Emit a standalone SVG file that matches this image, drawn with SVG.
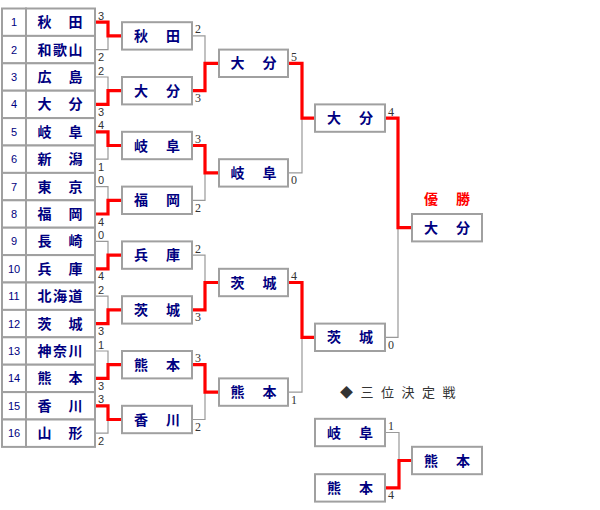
<svg xmlns="http://www.w3.org/2000/svg" width="600" height="510" viewBox="0 0 600 510">
<style>
.cell{fill:#fff;stroke:#a0a0a0;stroke-width:2}
.box{fill:#fff;stroke:#a0a0a0;stroke-width:2}
.num{font-family:"Liberation Sans",Arial,sans-serif;font-size:11px;fill:#000080;text-anchor:middle}
.tn{font-family:"Noto Sans CJK JP",sans-serif;font-size:14px;font-weight:bold;fill:#000080;text-anchor:middle;letter-spacing:1.5px}
.bn{font-family:"Noto Sans CJK JP",sans-serif;font-size:14px;font-weight:bold;fill:#000080;text-anchor:middle;letter-spacing:2px}
.sc{font-family:"Liberation Sans",Arial,sans-serif;font-size:11px;fill:#333}
.scs{font-family:"Liberation Serif","Times New Roman",serif;font-size:12px;fill:#333}
.g{fill:none;stroke:#999;stroke-width:1.2}
.r{fill:none;stroke:#f00;stroke-width:3.2}
.win{font-family:"Noto Sans CJK JP",sans-serif;font-size:14px;font-weight:bold;fill:#f00;text-anchor:middle;letter-spacing:2px}
.third{font-family:"Noto Sans CJK JP",sans-serif;font-size:13px;fill:#333;letter-spacing:7.5px}
</style>

<g id="connectors">
  <!-- Round 1 grey brackets -->
  <path class="g" d="M95 22.2H108V49.6H95M108 35.9H122"/>
  <path class="g" d="M95 77H108V104.4H95M108 90.7H122"/>
  <path class="g" d="M95 131.8H108V159.2H95M108 145.5H122"/>
  <path class="g" d="M95 186.6H108V214H95M108 200.3H122"/>
  <path class="g" d="M95 241.4H108V268.8H95M108 255.1H122"/>
  <path class="g" d="M95 296.2H108V323.6H95M108 309.9H122"/>
  <path class="g" d="M95 351H108V378.4H95M108 364.7H122"/>
  <path class="g" d="M95 405.8H108V433.2H95M108 419.5H122"/>
  <!-- Round 2 grey brackets -->
  <path class="g" d="M192 35.9H205V90.7H192M205 63.3H219"/>
  <path class="g" d="M192 145.5H205V200.3H192M205 172.9H219"/>
  <path class="g" d="M192 255.1H205V309.9H192M205 282.5H219"/>
  <path class="g" d="M192 364.7H205V419.5H192M205 392.1H219"/>
  <!-- Round 3 grey brackets -->
  <path class="g" d="M288 63.3H302V172.9H288M302 118.1H315"/>
  <path class="g" d="M288 282.5H302V392.1H288M302 337.3H315"/>
  <!-- Final grey bracket -->
  <path class="g" d="M385 118.1H398V337.3H385M398 227.7H412"/>
  <!-- Third place grey bracket -->
  <path class="g" d="M385 432.5H399V487.9H385M399 460.5H412"/>

  <!-- Winner paths (red) -->
  <path class="r" d="M95 22.2H108V35.9H122"/>
  <path class="r" d="M95 104.4H108V90.7H122"/>
  <path class="r" d="M95 131.8H108V145.5H122"/>
  <path class="r" d="M95 214H108V200.3H122"/>
  <path class="r" d="M95 268.8H108V255.1H122"/>
  <path class="r" d="M95 323.6H108V309.9H122"/>
  <path class="r" d="M95 378.4H108V364.7H122"/>
  <path class="r" d="M95 405.8H108V419.5H122"/>
  <path class="r" d="M192 90.7H205V63.3H219"/>
  <path class="r" d="M192 145.5H205V172.9H219"/>
  <path class="r" d="M192 309.9H205V282.5H219"/>
  <path class="r" d="M192 364.7H205V392.1H219"/>
  <path class="r" d="M288 63.3H302V118.1H315"/>
  <path class="r" d="M288 282.5H302V337.3H315"/>
  <path class="r" d="M385 118.1H398V227.7H412"/>
  <path class="r" d="M385 487.9H399V460.5H412"/>

  <!-- Scores round 1 -->
  <text class="sc" x="98" y="19.7">3</text><text class="sc" x="98" y="61.1">2</text>
  <text class="sc" x="98" y="74.5">2</text><text class="sc" x="98" y="115.9">3</text>
  <text class="sc" x="98" y="129.3">4</text><text class="sc" x="98" y="170.7">1</text>
  <text class="sc" x="98" y="184.1">0</text><text class="sc" x="98" y="225.5">4</text>
  <text class="sc" x="98" y="238.9">0</text><text class="sc" x="98" y="280.3">4</text>
  <text class="sc" x="98" y="293.7">2</text><text class="sc" x="98" y="335.1">3</text>
  <text class="sc" x="98" y="348.5">1</text><text class="sc" x="98" y="389.9">3</text>
  <text class="sc" x="98" y="403.3">3</text><text class="sc" x="98" y="444.7">2</text>
  <!-- Scores round 2 -->
  <text class="scs" x="195" y="33.4">2</text><text class="scs" x="195" y="102.2">3</text>
  <text class="scs" x="195" y="143">3</text><text class="scs" x="195" y="211.8">2</text>
  <text class="scs" x="195" y="252.6">2</text><text class="scs" x="195" y="321.4">3</text>
  <text class="scs" x="195" y="362.2">3</text><text class="scs" x="195" y="431">2</text>
  <!-- Scores round 3 -->
  <text class="scs" x="291" y="60.8">5</text><text class="scs" x="291" y="184.4">0</text>
  <text class="scs" x="291" y="280">4</text><text class="scs" x="291" y="403.6">1</text>
  <!-- Scores final -->
  <text class="scs" x="388" y="115.6">4</text><text class="scs" x="388" y="348.8">0</text>
  <!-- Scores third place -->
  <text class="scs" x="388" y="430">1</text><text class="scs" x="388" y="499.4">4</text>
</g>

<g id="team-1"><rect class="cell" x="2" y="8.5" width="24" height="27.4"/><rect class="cell" x="26" y="8.5" width="69" height="27.4"/><text class="num" x="14" y="26.2">1</text><text class="tn" x="60.8" y="27.2">秋　田</text></g>
<g id="team-2"><rect class="cell" x="2" y="35.9" width="24" height="27.4"/><rect class="cell" x="26" y="35.9" width="69" height="27.4"/><text class="num" x="14" y="53.6">2</text><text class="tn" x="60.8" y="54.6">和歌山</text></g>
<g id="team-3"><rect class="cell" x="2" y="63.3" width="24" height="27.4"/><rect class="cell" x="26" y="63.3" width="69" height="27.4"/><text class="num" x="14" y="81">3</text><text class="tn" x="60.8" y="82">広　島</text></g>
<g id="team-4"><rect class="cell" x="2" y="90.7" width="24" height="27.4"/><rect class="cell" x="26" y="90.7" width="69" height="27.4"/><text class="num" x="14" y="108.4">4</text><text class="tn" x="60.8" y="109.4">大　分</text></g>
<g id="team-5"><rect class="cell" x="2" y="118.1" width="24" height="27.4"/><rect class="cell" x="26" y="118.1" width="69" height="27.4"/><text class="num" x="14" y="135.8">5</text><text class="tn" x="60.8" y="136.8">岐　阜</text></g>
<g id="team-6"><rect class="cell" x="2" y="145.5" width="24" height="27.4"/><rect class="cell" x="26" y="145.5" width="69" height="27.4"/><text class="num" x="14" y="163.2">6</text><text class="tn" x="60.8" y="164.2">新　潟</text></g>
<g id="team-7"><rect class="cell" x="2" y="172.9" width="24" height="27.4"/><rect class="cell" x="26" y="172.9" width="69" height="27.4"/><text class="num" x="14" y="190.6">7</text><text class="tn" x="60.8" y="191.6">東　京</text></g>
<g id="team-8"><rect class="cell" x="2" y="200.3" width="24" height="27.4"/><rect class="cell" x="26" y="200.3" width="69" height="27.4"/><text class="num" x="14" y="218">8</text><text class="tn" x="60.8" y="219">福　岡</text></g>
<g id="team-9"><rect class="cell" x="2" y="227.7" width="24" height="27.4"/><rect class="cell" x="26" y="227.7" width="69" height="27.4"/><text class="num" x="14" y="245.4">9</text><text class="tn" x="60.8" y="246.4">長　崎</text></g>
<g id="team-10"><rect class="cell" x="2" y="255.1" width="24" height="27.4"/><rect class="cell" x="26" y="255.1" width="69" height="27.4"/><text class="num" x="14" y="272.8">10</text><text class="tn" x="60.8" y="273.8">兵　庫</text></g>
<g id="team-11"><rect class="cell" x="2" y="282.5" width="24" height="27.4"/><rect class="cell" x="26" y="282.5" width="69" height="27.4"/><text class="num" x="14" y="300.2">11</text><text class="tn" x="60.8" y="301.2">北海道</text></g>
<g id="team-12"><rect class="cell" x="2" y="309.9" width="24" height="27.4"/><rect class="cell" x="26" y="309.9" width="69" height="27.4"/><text class="num" x="14" y="327.6">12</text><text class="tn" x="60.8" y="328.6">茨　城</text></g>
<g id="team-13"><rect class="cell" x="2" y="337.3" width="24" height="27.4"/><rect class="cell" x="26" y="337.3" width="69" height="27.4"/><text class="num" x="14" y="355">13</text><text class="tn" x="60.8" y="356">神奈川</text></g>
<g id="team-14"><rect class="cell" x="2" y="364.7" width="24" height="27.4"/><rect class="cell" x="26" y="364.7" width="69" height="27.4"/><text class="num" x="14" y="382.4">14</text><text class="tn" x="60.8" y="383.4">熊　本</text></g>
<g id="team-15"><rect class="cell" x="2" y="392.1" width="24" height="27.4"/><rect class="cell" x="26" y="392.1" width="69" height="27.4"/><text class="num" x="14" y="409.8">15</text><text class="tn" x="60.8" y="410.8">香　川</text></g>
<g id="team-16"><rect class="cell" x="2" y="419.5" width="24" height="27.4"/><rect class="cell" x="26" y="419.5" width="69" height="27.4"/><text class="num" x="14" y="437.2">16</text><text class="tn" x="60.8" y="438.2">山　形</text></g>

<g id="r2-1"><rect class="box" x="122" y="22.2" width="70" height="27.4"/><text class="bn" x="158" y="40.9">秋　田</text></g>
<g id="r2-2"><rect class="box" x="122" y="77" width="70" height="27.4"/><text class="bn" x="158" y="95.7">大　分</text></g>
<g id="r2-3"><rect class="box" x="122" y="131.8" width="70" height="27.4"/><text class="bn" x="158" y="150.5">岐　阜</text></g>
<g id="r2-4"><rect class="box" x="122" y="186.6" width="70" height="27.4"/><text class="bn" x="158" y="205.3">福　岡</text></g>
<g id="r2-5"><rect class="box" x="122" y="241.4" width="70" height="27.4"/><text class="bn" x="158" y="260.1">兵　庫</text></g>
<g id="r2-6"><rect class="box" x="122" y="296.2" width="70" height="27.4"/><text class="bn" x="158" y="314.9">茨　城</text></g>
<g id="r2-7"><rect class="box" x="122" y="351" width="70" height="27.4"/><text class="bn" x="158" y="369.7">熊　本</text></g>
<g id="r2-8"><rect class="box" x="122" y="405.8" width="70" height="27.4"/><text class="bn" x="158" y="424.5">香　川</text></g>

<g id="r3-1"><rect class="box" x="219" y="49.6" width="69" height="27.4"/><text class="bn" x="254.5" y="68.3">大　分</text></g>
<g id="r3-2"><rect class="box" x="219" y="159.2" width="69" height="27.4"/><text class="bn" x="254.5" y="177.9">岐　阜</text></g>
<g id="r3-3"><rect class="box" x="219" y="268.8" width="69" height="27.4"/><text class="bn" x="254.5" y="287.5">茨　城</text></g>
<g id="r3-4"><rect class="box" x="219" y="378.4" width="69" height="27.4"/><text class="bn" x="254.5" y="397.1">熊　本</text></g>

<g id="sf-1"><rect class="box" x="315" y="104.4" width="70" height="27.4"/><text class="bn" x="351" y="123.1">大　分</text></g>
<g id="sf-2"><rect class="box" x="315" y="323.6" width="70" height="27.4"/><text class="bn" x="351" y="342.3">茨　城</text></g>

<g id="champion"><text class="win" x="448" y="204">優　勝</text><rect class="box" x="412" y="214" width="70" height="27.4"/><text class="bn" x="448" y="232.7">大　分</text></g>

<g id="third-title"><text class="third" x="340" y="397">◆三位決定戦</text></g>
<g id="third-1"><rect class="box" x="315" y="418.8" width="70" height="27.4"/><text class="bn" x="351" y="437.5">岐　阜</text></g>
<g id="third-2"><rect class="box" x="315" y="474.2" width="70" height="27.4"/><text class="bn" x="351" y="492.9">熊　本</text></g>
<g id="third-winner"><rect class="box" x="412" y="446.8" width="70" height="27.4"/><text class="bn" x="448" y="465.5">熊　本</text></g>
</svg>
